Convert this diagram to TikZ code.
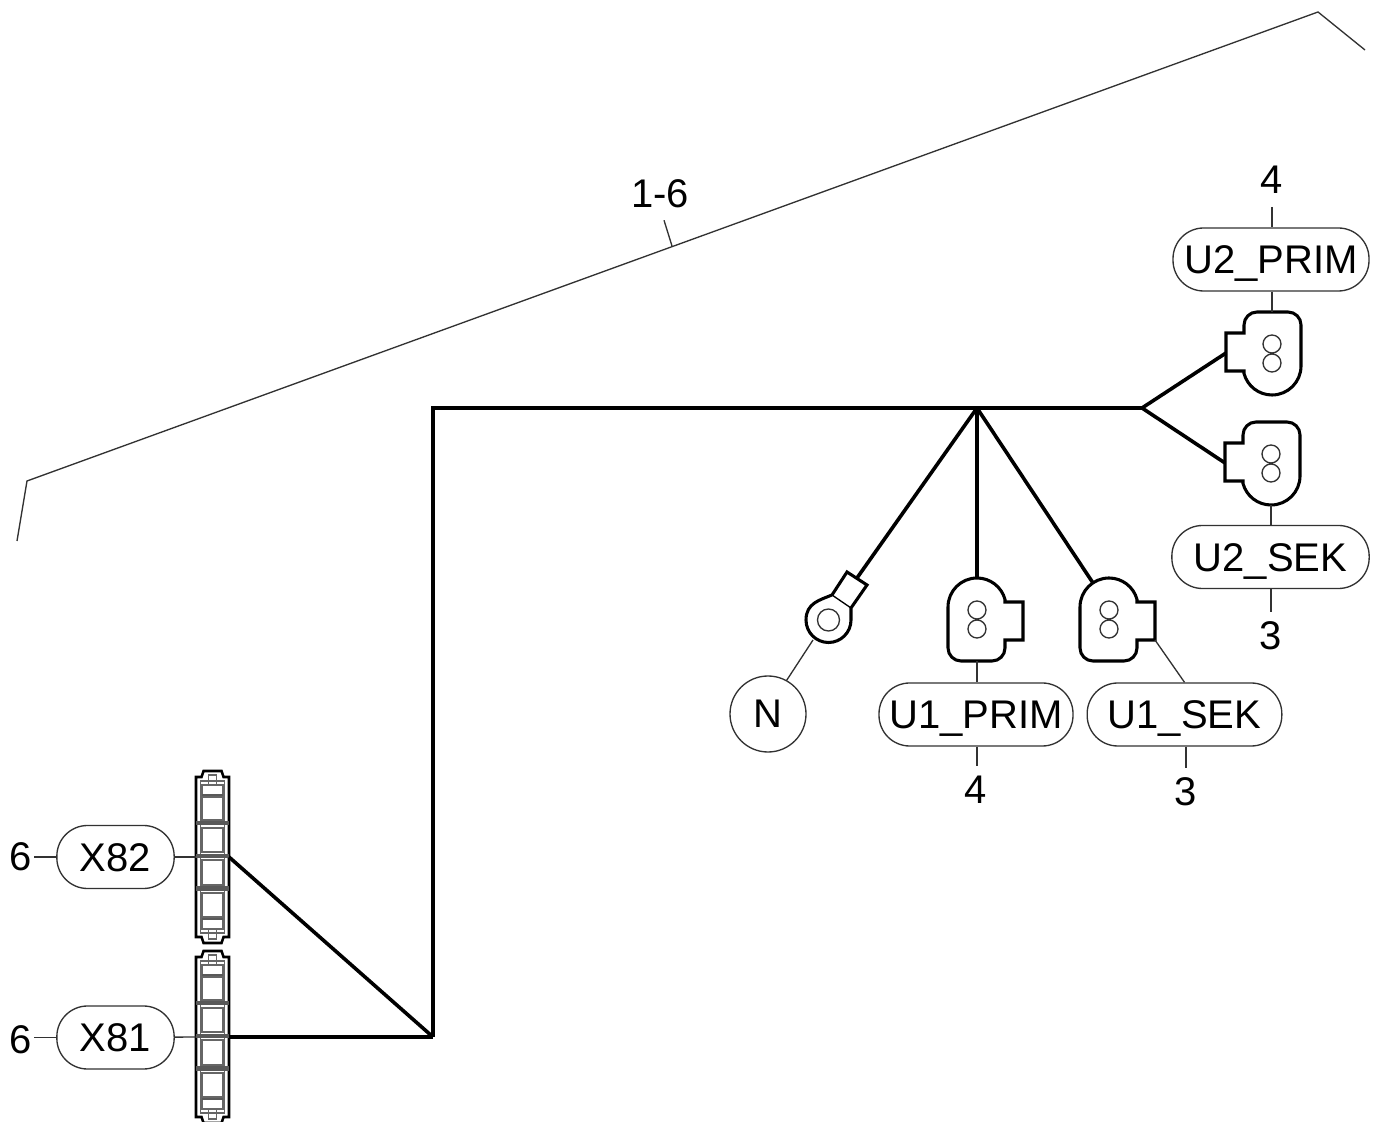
\documentclass[tikz,border=0pt]{standalone}
\usepackage{fontspec}
\setmainfont{Liberation Sans}
\usetikzlibrary{calc}
\definecolor{leadgray}{RGB}{50,50,50}
\tikzset{
  wire/.style={line width=2.7pt, draw=black},
  lead/.style={line width=1pt, draw=leadgray},
  pill/.style={
    rectangle, rounded corners=23pt, line width=1pt,
    draw=leadgray, fill=white,
    minimum height=47.25pt, inner sep=0pt,
    text height=21.5pt, text depth=0pt,
    font=\fontsize{30}{33}\selectfont
  },
  num/.style={inner sep=0pt, inner xsep=1.5pt, minimum height=36pt,
    text height=21pt, text depth=0pt, font=\fontsize{30}{33}\selectfont},
  % two-pin plug, flange on the left, large round end below
  plug/.pic={
    \draw[line width=2.3pt, fill=white] (-28,17) -- (-28,25) arc (180:90:13) -- (16,38) arc (90:0:13)
      -- (29,-16) arc (0:-90:29) arc (270:195:29) -- (-28,-21) -- (-46,-21) -- (-46,17) -- cycle;
    \draw[lead] (0,6) circle (9) (0,-13) circle (9);
    \coordinate (-top) at (0,38);
    \coordinate (-bot) at (0,-45);
    \coordinate (-pin) at (-46,-3);
    \coordinate (-corner) at (-46,17);
    \coordinate (-side) at (16,-40);
  },
  % four-way housing
  housing/.pic={
    \draw[line width=1.9pt, fill=white] (-16.5,-80) -- (-16.5,80) -- (-11,80) -- (-9,86) -- (9,86) -- (11,80)
      -- (16.5,80) -- (16.5,-80) -- (11,-80) -- (9,-86) -- (-9,-86) -- (-11,-80) -- cycle;
    \draw[lead, draw=black!60] (-12,-76) rectangle (12,76);
    \foreach \ya/\yb in {60/37, 29/5, -3/-28, -36/-60} {
      \draw[lead, draw=black!60] (-10.5,\ya) rectangle (10.5,\yb);
    }
    \foreach \yc in {34, 1, -31.5} {
      \draw[line width=3.2pt, draw=black!65] (-16.5,\yc) -- (16.5,\yc);
    }
    \foreach \sgn in {1,-1} {
      \draw[lead, draw=black!60] (-10.5,72*\sgn) rectangle (10.5,62*\sgn);
      \draw[lead, draw=black!60] (-4,72*\sgn) rectangle (4,82*\sgn);
      \draw[line width=2pt, draw=black!65] (-10.5,62*\sgn) -- (10.5,62*\sgn);
    }
    \coordinate (-west) at (-16.5,0);
    \coordinate (-east) at (16.5,0);
  }
}

\begin{document}
\begin{tikzpicture}[x=0.75pt,y=0.75pt]
\useasboundingbox (0,0) rectangle (1377,1121);

% ---- bracket over the whole harness ----
\coordinate (brA) at (17,580);
\coordinate (brB) at (27,640);
\coordinate (brC) at (1318,1109);
\coordinate (brD) at (1365,1071);
\coordinate (brTick) at (672,875);
\draw[lead] (brA) -- (brB) -- (brC) -- (brD);
\node[num] (range) at (660,927) {1-6};
\draw[lead] ($(range.south)+(4,-2)$) -- (brTick);

% ---- housings on the left ----
\pic (hsgB) at (212.5,264) {housing};
\pic (hsgA) at (212.5,84) {housing};
\node[pill, minimum width=88pt] (x82) at (115.5,264) {X82};
\node[pill, minimum width=88pt] (x81) at (115.5,83.5) {X81};
\node[num] (n82) at (21,264) {6};
\node[num] (n81) at (21,82) {6};
\draw[lead] (n82) -- (x82);
\draw[lead] (n81.east |- x81) -- (x81);
\draw[lead] (x82) -- (hsgB-west);
\draw[lead] (x81) -- (hsgA-west);

% ---- plugs and ring lug ----
\pic (plugUtwoP) at (1272,771) {plug};
\pic (plugUtwoS) at (1271,661) {plug};
\pic[rotate=180] (plugUoneP) at (977,498) {plug};
\pic[rotate=180] (plugUoneS) at (1109,498) {plug};

\draw[line width=2.3pt, fill=white] (832,526) -- (847,549) -- (867,536) -- (851,513) -- (851,501)
  arc (0:-180:22.5) .. controls (806,518) and (820,521) .. (832,526);
\draw[line width=1pt] (832,526) -- (851,513);
\draw[lead] (828.5,501) circle (11);
\coordinate (lugTop) at (857,543);
\coordinate (lugLow) at (813,481);

% ---- harness ----
\coordinate (joinS) at (433,84);
\coordinate (cornerN) at (433,713);
\coordinate (trunk) at (977,713);
\coordinate (split) at (1142,713);
\draw[wire] (joinS) -- (cornerN) -- (split);
\draw[wire] (hsgB-east) -- (joinS);
\draw[wire] (hsgA-east) -- (joinS);
\draw[wire] (split) -- (plugUtwoP-pin);
\draw[wire] (split) -- (plugUtwoS-pin);
\draw[wire] (trunk) -- (lugTop);
\draw[wire] (trunk) -- (plugUoneP-bot);
\draw[wire] (trunk) -- (plugUoneS-side);

% ---- labels on the right ----
\node[pill, minimum width=147pt] (u2prim) at (1271,861.5) {U2\_PRIM};
\node[pill, minimum width=148pt] (u2sek) at (1270.5,564) {U2\_SEK};
\node[pill, minimum width=145.5pt] (u1prim) at (976,406.5) {U1\_PRIM};
\node[pill, minimum width=146pt] (u1sek) at (1184.5,406.5) {U1\_SEK};
\node[circle, draw=leadgray, line width=1pt, minimum size=57pt, inner sep=0pt,
  font=\fontsize{30}{33}\selectfont] (nlug) at (768,407) {N};

\node[num, minimum height=40.5pt] (n4top) at (1272,941.5) {4};
\node[num] (n3top) at (1271,485) {3};
\node[num] (n4low) at (976,331) {4};
\node[num] (n3low) at (1186,329) {3};

\draw[lead] (n4top.south) -- (n4top.south |- u2prim.north);
\draw[lead] (u2prim.south -| plugUtwoP-top) -- (plugUtwoP-top);
\draw[lead] (plugUtwoS-bot) -- (plugUtwoS-bot |- u2sek.north);
\draw[lead] (plugUtwoS-bot |- u2sek.south) -- (n3top.north);
\draw[lead] (plugUoneP-top) -- (plugUoneP-top |- u1prim.north);
\draw[lead] (plugUoneP-top |- u1prim.south) -- (plugUoneP-top |- n4low.north);
\draw[lead] (plugUoneS-corner) -- (u1sek.north);
\draw[lead] (u1sek.south -| n3low) -- (n3low.north);
\draw[lead] (lugLow) -- (nlug.61);
\end{tikzpicture}
\end{document}
